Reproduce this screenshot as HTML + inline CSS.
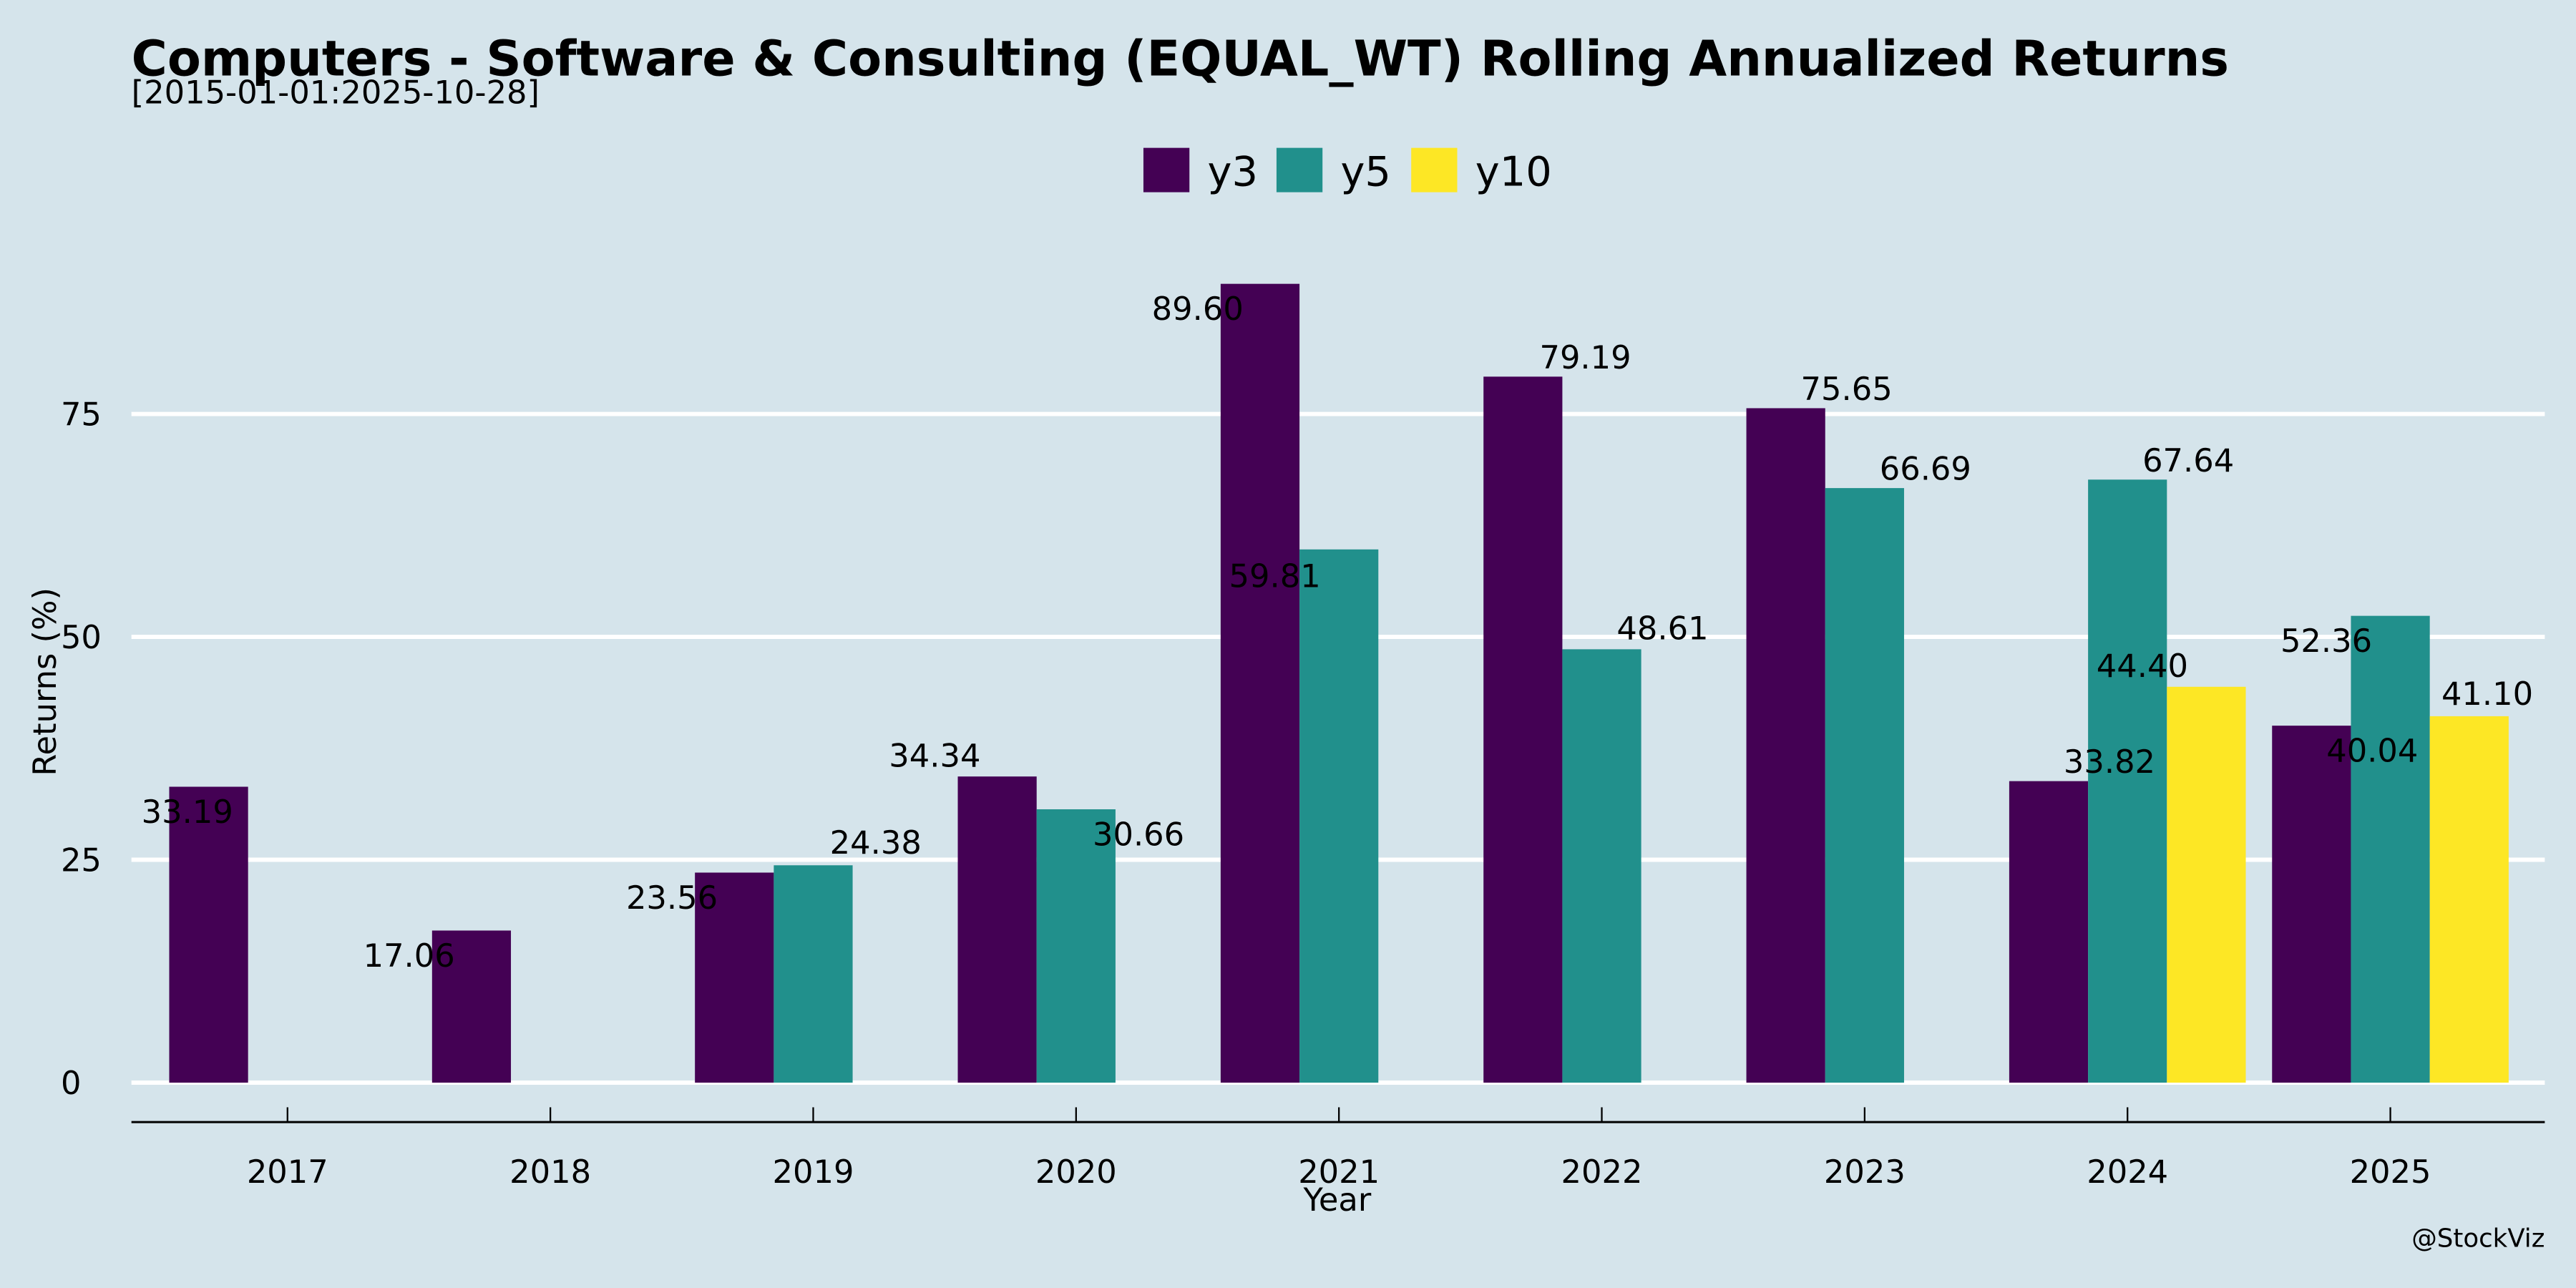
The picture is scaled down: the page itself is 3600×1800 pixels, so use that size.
<!DOCTYPE html>
<html><head><meta charset="utf-8"><style>
html,body{margin:0;padding:0;background:#d5e4eb;}
svg{display:block;font-family:"DejaVu Sans","Liberation Sans",sans-serif;}
</style></head><body>
<svg id="chart" width="3600" height="1800" viewBox="0 0 1568 784" xmlns="http://www.w3.org/2000/svg">
<rect width="1568" height="784" fill="#d5e4eb"/>
<text x="80" y="46" font-size="29.8" font-weight="bold">Computers - Software &amp; Consulting (EQUAL_WT) Rolling Annualized Returns</text>
<text x="80" y="63" font-size="19.5">[2015-01-01:2025-10-28]</text>
<g id="grid"></g>
<g id="bars"></g>
<g id="labels"></g>
<g id="axes"></g>
<g id="legend"></g>
<text x="34" y="415" font-size="19.5" text-anchor="middle" transform="rotate(-90 34 415)">Returns (%)</text>
<text x="814" y="737" font-size="19.5" text-anchor="middle">Year</text>
<text x="1549" y="759" font-size="15.5" text-anchor="end">@StockViz</text>
</svg>
<script>
const categories = ["2017","2018","2019","2020","2021","2022","2023","2024","2025"];
const seriesNames = ["y3","y5","y10"];
const y3 = [33.19,17.06,23.56,34.34,89.60,79.19,75.65,33.82,40.04];
const y5 = [null,null,24.38,30.66,59.81,48.61,66.69,67.64,52.36];
const y10 = [null,null,null,null,null,null,null,44.40,41.10];
const yTicks = [0,25,50,75];
const colors = ["#440154","#21908c","#fde725"];
// label offsets (layout, not data) [dx,dy] relative to bar center / top
const labOff = [
 [[-13,15],[-38,15],[-38,15],[-38,-13],[-38,15],[38,-12],[37,-12],[37,-12],[37,15]],
 [null,null,[38,-14],[38,15],[-39,16],[37,-13],[37,-12],[37,-12],[-39,15]],
 [null,null,null,null,null,null,null,[-39,-13],[11,-14]]
];
const NS="http://www.w3.org/2000/svg";
const X0=80,X1=1549,Y0=659,PPU=5.4267,BW=48;
const yS=v=>Y0-v*PPU;
const xS=i=>175+160*i;
function mk(tag,attrs,parent){const e=document.createElementNS(NS,tag);for(const k in attrs)e.setAttribute(k,attrs[k]);parent.appendChild(e);return e;}
const grid=document.getElementById('grid'),bars=document.getElementById('bars'),labels=document.getElementById('labels'),axes=document.getElementById('axes'),legend=document.getElementById('legend');
yTicks.forEach(t=>{
  const l=mk('line',{x1:X0,x2:X1,y1:yS(t),y2:yS(t),stroke:'#fff','stroke-width':2.6},grid);
  
  
  const tx=mk('text',{x:37,y:yS(t)+7,'font-size':19.5,'text-anchor':'start'},axes);
  tx.textContent=t;
  
  
});
const series=[y3,y5,y10];
series.forEach((arr,s)=>{
  arr.forEach((v,i)=>{
    if(v===null)return;
    const cx=xS(i)+(s-1)*BW;
    const r=mk('rect',{x:cx-BW/2,y:yS(v),width:BW,height:Y0-yS(v),fill:colors[s]},bars);
    
    
    const o=labOff[s][i]||[0,-8];
    const t=mk('text',{x:cx+o[0],y:yS(v)+o[1]+7,'font-size':19.5,'text-anchor':'middle'},labels);
    t.textContent=v.toFixed(2);
    
    
  });
});
const ax=mk('line',{x1:X0,x2:X1,y1:683,y2:683,stroke:'#000','stroke-width':1.3},axes);


categories.forEach((c,i)=>{
  const tk=mk('line',{x1:xS(i),x2:xS(i),y1:674,y2:683,stroke:'#000','stroke-width':1},axes);
  
  
  const t=mk('text',{x:xS(i),y:720,'font-size':19.5,'text-anchor':'middle'},axes);
  t.textContent=c;
  
  
});
const legX=[696,777,859];
seriesNames.forEach((n,s)=>{
  const r=mk('rect',{x:legX[s],y:90,width:28,height:27,fill:colors[s]},legend);
  
  
  const t=mk('text',{x:legX[s]+39,y:113,'font-size':25},legend);
  t.textContent=n;
  
  
});
</script>
</body></html>
